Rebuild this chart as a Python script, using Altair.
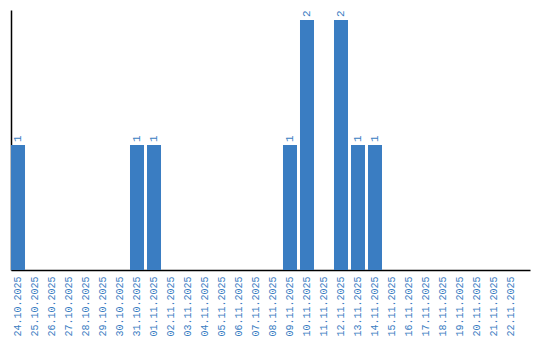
import altair as alt
import pandas as pd

dates = ["24.10.2025", "25.10.2025", "26.10.2025", "27.10.2025", "28.10.2025",
         "29.10.2025", "30.10.2025", "31.10.2025", "01.11.2025", "02.11.2025",
         "03.11.2025", "04.11.2025", "05.11.2025", "06.11.2025", "07.11.2025",
         "08.11.2025", "09.11.2025", "10.11.2025", "11.11.2025", "12.11.2025",
         "13.11.2025", "14.11.2025", "15.11.2025", "16.11.2025", "17.11.2025",
         "18.11.2025", "19.11.2025", "20.11.2025", "21.11.2025", "22.11.2025"]
counts = [1, 0, 0, 0, 0, 0, 0, 1, 1, 0,
          0, 0, 0, 0, 0, 0, 1, 2, 0, 2,
          1, 1, 0, 0, 0, 0, 0, 0, 0, 0]

df = pd.DataFrame({"date": dates, "count": counts})
BLUE = "#3a7dc2"
FONT = "Liberation Mono"

x = alt.X("date:N", sort=dates,
          scale=alt.Scale(paddingInner=0.176, paddingOuter=0.353, align=0),
          axis=alt.Axis(title=None, labelAngle=-90, labelColor=BLUE, labelFont=FONT,
                        labelFontSize=10, ticks=False, labelPadding=6,
                        domainColor="#000", domainWidth=1.5, labelAlign="right",
                        labelBaseline="middle"))
y = alt.Y("count:Q", scale=alt.Scale(domain=[0, 2.08], nice=False),
          axis=alt.Axis(title=None, labels=False, ticks=False, grid=False,
                        domainColor="#000", domainWidth=1.5))

bars = alt.Chart(df).mark_bar(color=BLUE, align="left").encode(x=x, y=y)
labels = alt.Chart(df[df["count"] > 0]).mark_text(
    color=BLUE, angle=270, align="left", baseline="middle", dx=3,
    font=FONT, fontSize=11
).encode(x=alt.X("date:N", sort=dates), y="count:Q", text="count:Q")

chart = alt.layer(bars, labels).properties(
    width=519, height=260,
    autosize=alt.AutoSizeParams(type="none"),
    padding={"left": 11, "top": 10, "right": 10, "bottom": 70},
    background="white",
).configure_view(stroke="transparent", strokeWidth=0)

chart.save("out.html", embed_options={"renderer": "svg", "actions": False})
